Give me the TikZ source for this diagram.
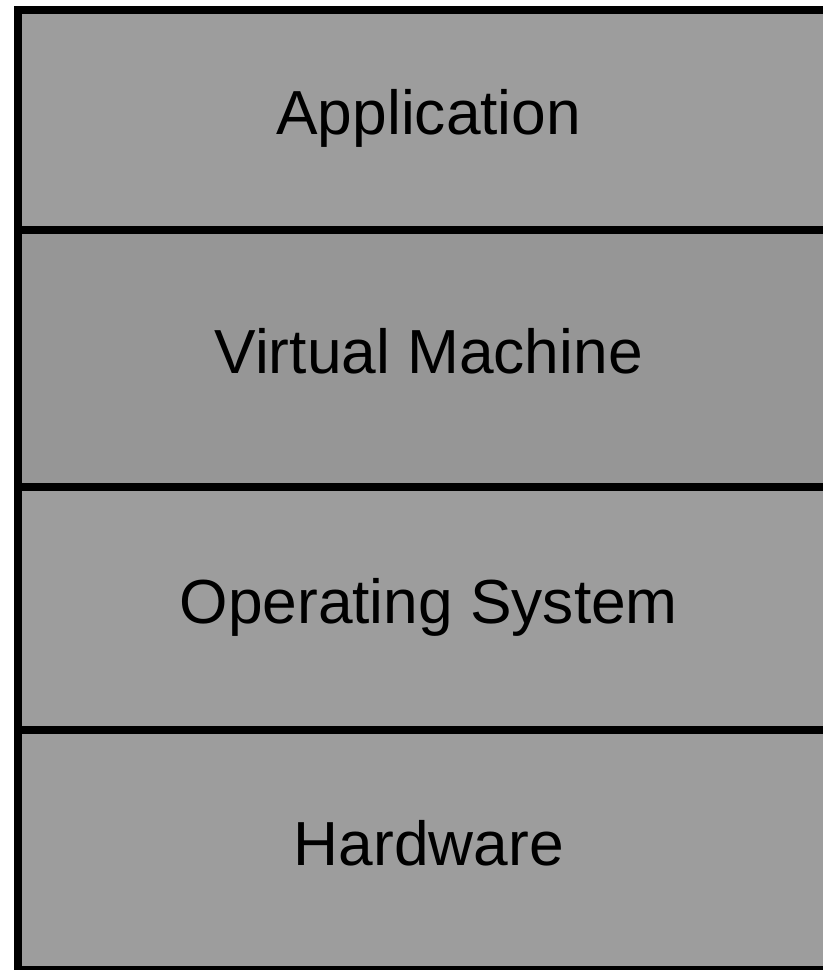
\documentclass[tikz,border=0pt]{standalone}
\usepackage{fontspec}
\setmainfont{Liberation Sans}
\usetikzlibrary{positioning}
\definecolor{layergray}{RGB}{157,157,157}
\definecolor{vmgray}{RGB}{150,150,150}
\begin{document}
\begin{tikzpicture}[x=1bp, y=1bp, layer/.style={draw=black, line width=8bp, fill=layergray, minimum width=822.5bp, inner sep=0pt, outer sep=0pt, text height=45bp, text depth=15bp, font=\fontsize{62.5}{70}\selectfont}]
	% 1. 画布范围
	\useasboundingbox (0,0) rectangle (823,-970);
	\clip (0,0) rectangle (823,-970);
	
	% 2. 各层 (自上而下)
	\node[layer, anchor=north west, minimum height=220.5bp] (app) at (17.5,-9.5) {Application};
	\node[layer, fill=vmgray, minimum height=257bp, below=0pt of app] (vm) {Virtual Machine};
	\node[layer, minimum height=243bp, below=0pt of vm] (os) {Operating System};
	\node[layer, minimum height=240bp, below=0pt of os] (hw) {Hardware};
\end{tikzpicture}
\end{document}
